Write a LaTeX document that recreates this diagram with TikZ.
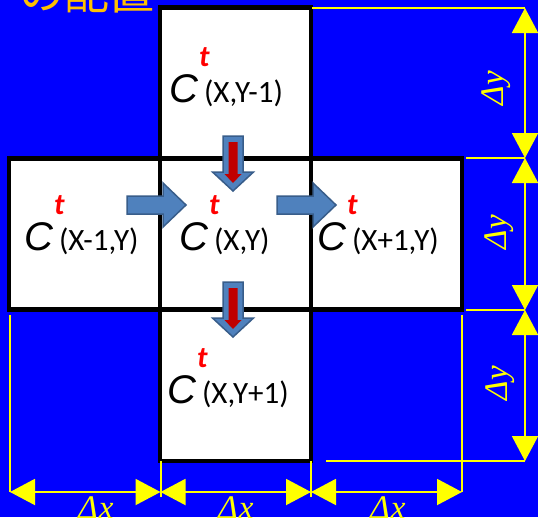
\documentclass[tikz,border=0pt]{standalone}
\usepackage{fontspec}
\setmainfont{Carlito}
\newfontfamily\jpfont{Noto Sans CJK JP}
\newfontfamily\tmsfont{Liberation Serif}
\newfontfamily\arlfont{Liberation Sans}
\usetikzlibrary{arrows.meta}
\definecolor{bg}{RGB}{0,0,255}
\definecolor{yel}{RGB}{255,255,0}
\definecolor{org}{RGB}{255,192,0}
\definecolor{afill}{RGB}{79,129,189}
\definecolor{aline}{RGB}{56,93,138}
\definecolor{ared}{RGB}{192,0,0}
\definecolor{tred}{RGB}{255,0,0}
\newcommand\cval[1]{{\arlfont\fontsize{40}{40}\selectfont\itshape C}\rlap{\kern1pt\raisebox{36pt}{\fontsize{30}{30}\selectfont\bfseries\itshape\color{tred}t}}\kern6pt{\fontsize{31}{31}\selectfont #1}}
\tikzset{
  cellbox/.style={draw=black, fill=white, line width=4.5pt, minimum size=151pt, inner sep=0pt},
  lbl/.style={inner sep=0pt, anchor=base west, text=black},
  dimline/.style={draw=yel, line width=2pt},
  dimarrow/.style={draw=yel, line width=2pt, {Triangle[length=25pt,width=26pt]}-{Triangle[length=25pt,width=26pt]}},
  dimlbl/.style={inner sep=0pt, text=yel, font=\tmsfont\itshape\fontsize{33}{33}\selectfont},
  rarrow/.pic={\filldraw[fill=afill, draw=aline, line width=1.5pt, line join=miter]
    (0,-9) -- (36,-9) -- (36,-22) -- (59,0) -- (36,22) -- (36,9) -- (0,9) -- cycle;},
  darrow/.pic={\filldraw[fill=afill, draw=aline, line width=1.5pt, line join=miter]
    (-10,0) -- (-10,36) -- (-20.5,36) -- (0,55) -- (20.5,36) -- (10,36) -- (10,0) -- cycle;
    \fill[ared] (-4.5,6) -- (-4.5,38) -- (-8.5,38) -- (0,47) -- (8.5,38) -- (4.5,38) -- (4.5,6) -- cycle;}
}
\begin{document}
\begin{tikzpicture}[x=1pt,y=-1pt]
\useasboundingbox (0,0) rectangle (538,517);
\clip (0,0) rectangle (538,517);
\fill[bg] (0,0) rectangle (538,517);
% title fragment
\node[anchor=base east, inner sep=0pt, text=org, font=\jpfont\fontsize{45}{45}\selectfont] (title) at (155,9) {の配置};
% cells
\node[cellbox] (ctop) at (235.5,83) {};
\node[cellbox] (cleft) at (84.5,234) {};
\node[cellbox] (cright) at (386.5,234) {};
\node[cellbox] (cbot) at (235.5,385.5) {};
\node[cellbox] (ccen) at (235.5,234) {};
% labels
\node[lbl] (ltop) at (169,102) {\cval{(X,Y-1)}};
\node[lbl] (lleft) at (24,250) {\cval{(X-1,Y)}};
\node[lbl] (lcen) at (179,250) {\cval{(X,Y)}};
\node[lbl] (lright) at (317,250) {\cval{(X+1,Y)}};
\node[lbl] (lbot) at (167,403) {\cval{(X,Y+1)}};
% flow arrows
\pic at (127,205) {rarrow};
\pic at (277,205) {rarrow};
\pic at (233,136) {darrow};
\pic at (233,282) {darrow};
% vertical dimension
\coordinate (v0) at (525,8);
\coordinate (v1) at (525,158);
\coordinate (v2) at (525,310);
\coordinate (v3) at (525,461);
\coordinate (e0) at (312,8);
\coordinate (e1) at (466,158);
\coordinate (e2) at (466,310);
\coordinate (e3) at (326,461);
\draw[dimline] (e0) -- (v0);
\draw[dimline] (e1) -- (v1);
\draw[dimline] (e2) -- (v2);
\draw[dimline] (e3) -- (v3);
\draw[dimarrow] (v0) -- (v1);
\draw[dimarrow] (v1) -- (v2);
\draw[dimarrow] (v2) -- (v3);
\node[dimlbl, rotate=90] (dy1) at (496,88) {Δ\kern1pt y};
\node[dimlbl, rotate=90] (dy2) at (499,232) {Δ\kern1pt y};
\node[dimlbl, rotate=90] (dy3) at (500,383) {Δ\kern1pt y};
% horizontal dimension
\coordinate (h0) at (10,492);
\coordinate (h1) at (160.5,492);
\coordinate (h2) at (311,492);
\coordinate (h3) at (462,492);
\coordinate (g0) at (10,315);
\coordinate (g1) at (160.5,461);
\coordinate (g2) at (311,461);
\coordinate (g3) at (462,315);
\coordinate (k1) at (160.5,497);
\coordinate (k2) at (311,497);
\draw[dimline] (g0) -- (h0);
\draw[dimline] (g1) -- (k1);
\draw[dimline] (g2) -- (k2);
\draw[dimline] (g3) -- (h3);
\draw[dimarrow] (h0) -- (h1);
\draw[dimarrow] (h1) -- (h2);
\draw[dimarrow] (h2) -- (h3);
\node[dimlbl, anchor=base] (dx1) at (96,518) {Δ\kern1pt x};
\node[dimlbl, anchor=base] (dx2) at (236,518) {Δ\kern1pt x};
\node[dimlbl, anchor=base] (dx3) at (388,518) {Δ\kern1pt x};
\end{tikzpicture}
\end{document}
